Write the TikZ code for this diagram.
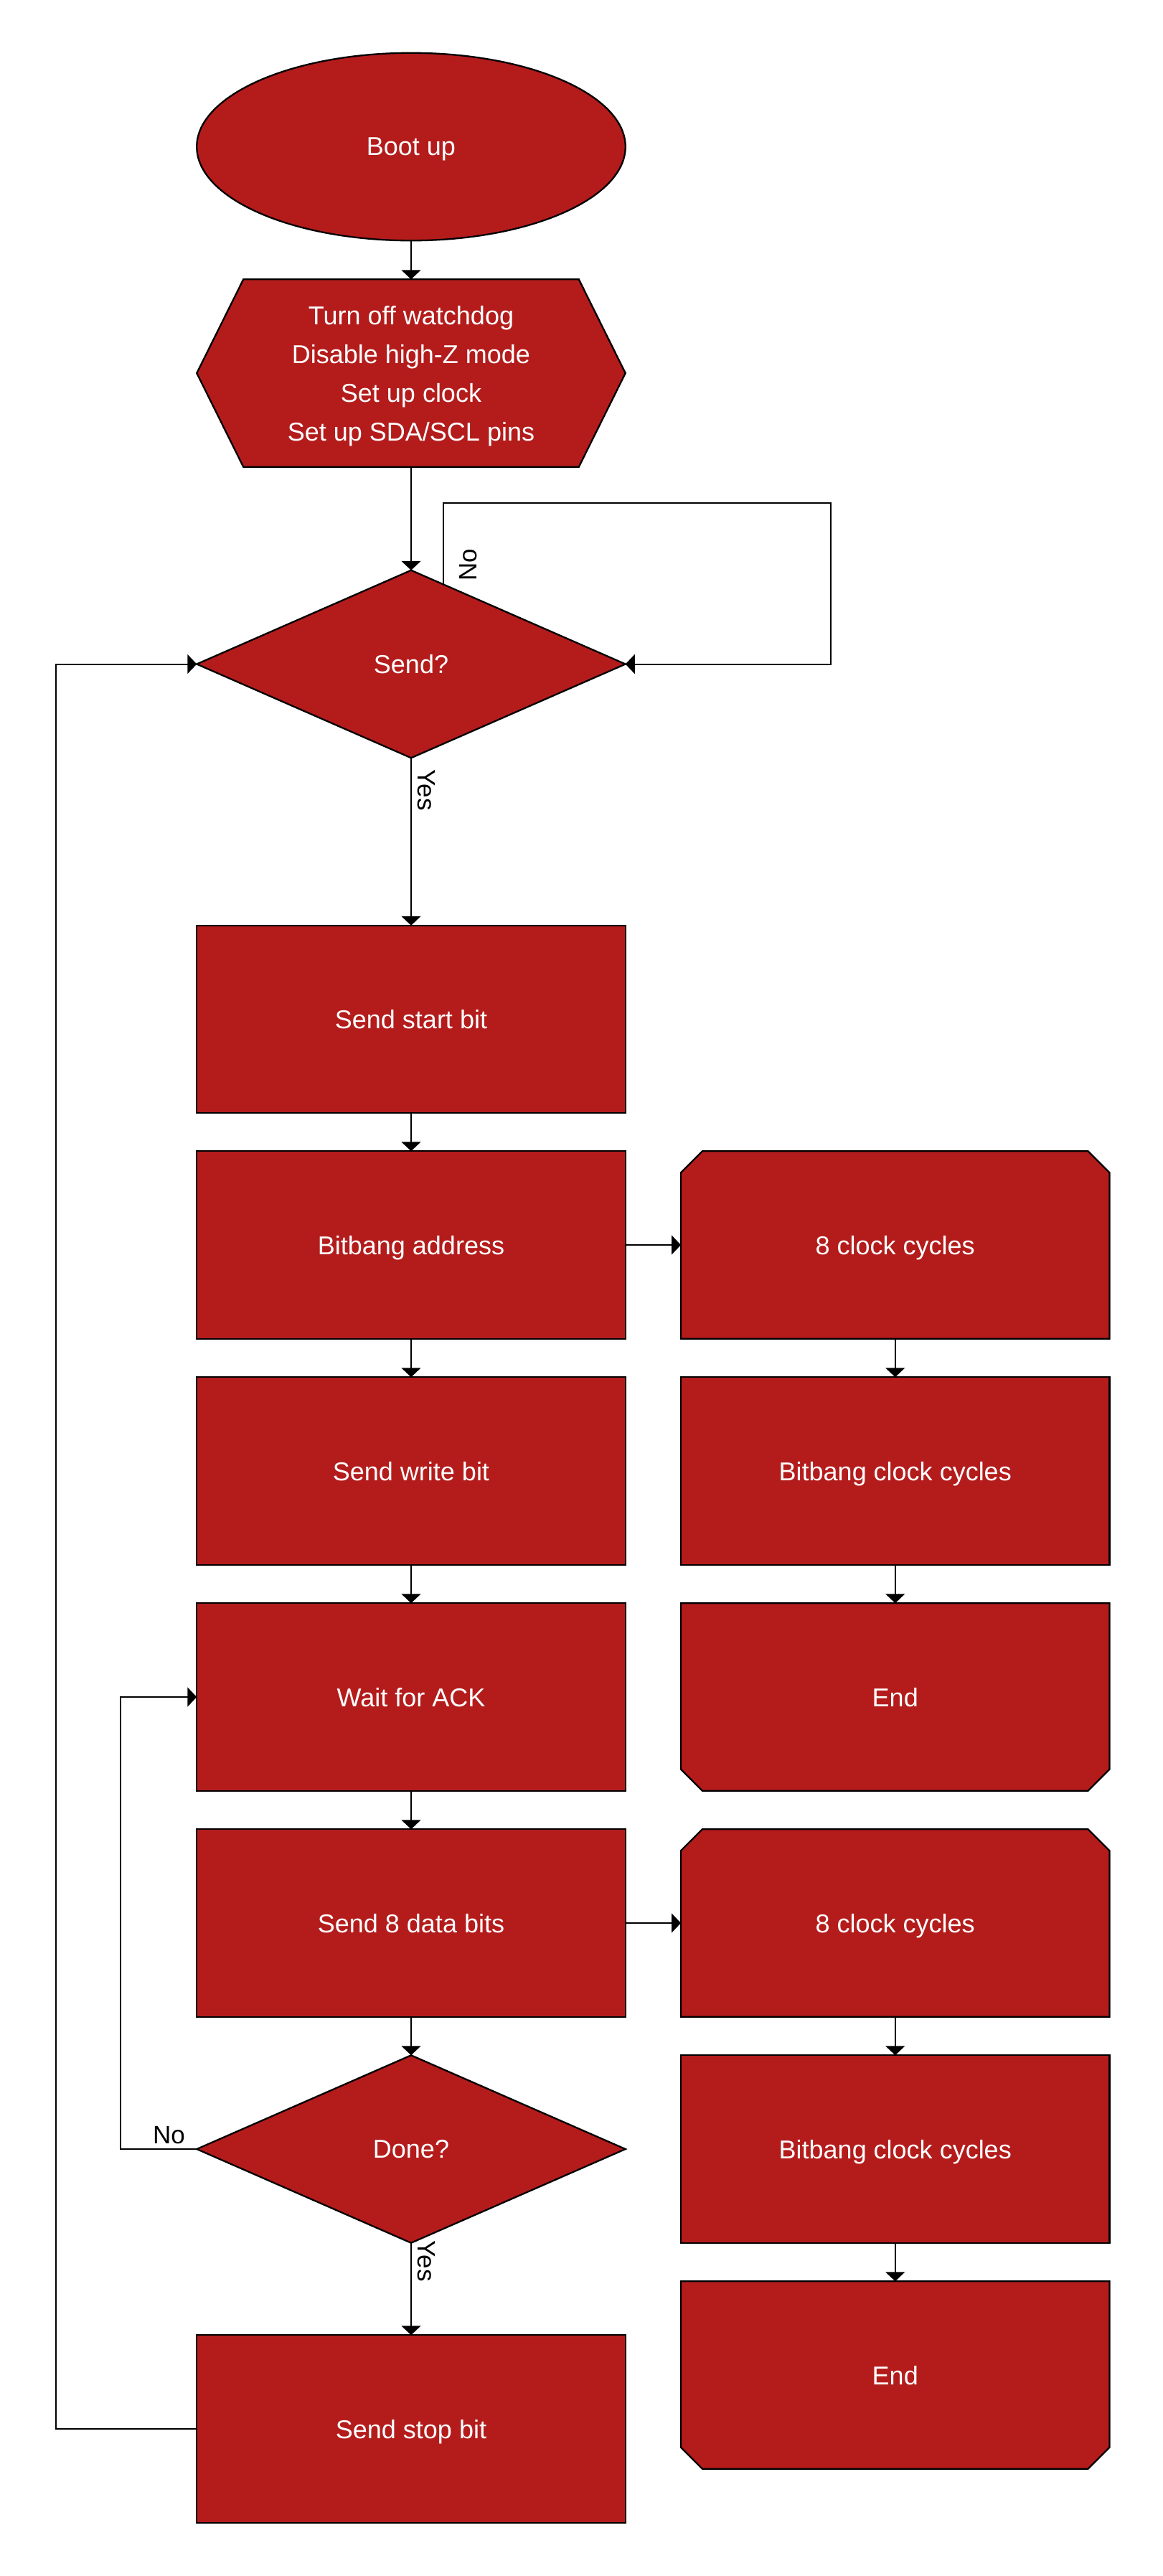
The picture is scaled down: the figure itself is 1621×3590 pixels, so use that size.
\documentclass[tikz,border=0pt]{standalone}
\usepackage{fontspec}
\setmainfont{Liberation Sans}
\usetikzlibrary{shapes.geometric,arrows.meta,backgrounds,calc}
\definecolor{boxred}{HTML}{B41C1C}
\begin{document}
\begin{tikzpicture}[x=1pt,y=-1pt,
  every node/.style={font=\fontsize{36}{54}\selectfont},
  blk/.style={rectangle, draw=black, fill=boxred, line width=2.3pt, minimum width=597.5pt, minimum height=261.5pt, inner sep=0pt, outer sep=0pt, text=white, align=center, text depth=0pt},
  bare/.style={rectangle, minimum width=597.5pt, minimum height=261.5pt, inner sep=0pt, outer sep=0pt, text=white, align=center, text depth=0pt},
  shp/.style={draw=black, fill=boxred, line width=2.3pt, line join=miter},
  conn/.style={line width=2pt, -{Triangle[width=27pt,length=13pt]}},
  lbl/.style={text=black, inner sep=0pt, font=\fontsize{35}{42}\selectfont}]

\useasboundingbox (0,0) rectangle (1621,3590);

% left column
\node[blk, shape=ellipse] (boot) at (573,204.5) {Boot up};
\node[bare] (hex) at (573,520) {Turn off watchdog\\Disable high-Z mode\\Set up clock\\Set up SDA/SCL pins};
\node[blk, shape=diamond] (send) at (573,925.5) {Send?};
\node[blk] (start) at (573,1420.5) {Send start bit};
\node[blk] (addr) at (573,1735) {Bitbang address};
\node[blk] (write) at (573,2050) {Send write bit};
\node[blk] (ack) at (573,2365) {Wait for ACK};
\node[blk] (data) at (573,2680) {Send 8 data bits};
\node[blk, shape=diamond] (done) at (573,2995) {Done?};
\node[blk] (stop) at (573,3385) {Send stop bit};

% right column
\node[bare] (clka) at (1247.75,1735) {8 clock cycles};
\node[blk] (bba) at (1247.75,2050) {Bitbang clock cycles};
\node[bare] (enda) at (1247.75,2365) {End};
\node[bare] (clkb) at (1247.75,2680) {8 clock cycles};
\node[blk] (bbb) at (1247.75,2995) {Bitbang clock cycles};
\node[bare] (endb) at (1247.75,3310) {End};

\begin{scope}[on background layer]
  \path[shp] ([xshift=65pt]hex.north west) -- ([xshift=-65pt]hex.north east) -- (hex.east)
    -- ([xshift=-65pt]hex.south east) -- ([xshift=65pt]hex.south west) -- (hex.west) -- cycle;
  \foreach \n in {clka,clkb}{
    \path[shp] ([yshift=-30pt]\n.north west) -- ([xshift=30pt]\n.north west) -- ([xshift=-30pt]\n.north east)
      -- ([yshift=-30pt]\n.north east) -- (\n.south east) -- (\n.south west) -- cycle;
  }
  \foreach \n in {enda,endb}{
    \path[shp] (\n.north west) -- (\n.north east) -- ([yshift=30pt]\n.south east) -- ([xshift=-30pt]\n.south east)
      -- ([xshift=30pt]\n.south west) -- ([yshift=30pt]\n.south west) -- cycle;
  }
\end{scope}

% connectors
\draw[conn] (boot) -- (hex);
\draw[conn] (hex) -- (send);
\coordinate (nostart) at ($(send.north)!0.1508!(send.east)$);
\coordinate (nocorner) at (1158,700.7);
\draw[conn] (nostart) |- (nocorner) |- (send.east);
\node[lbl, rotate=90] (noa) at (653,787) {No};
\draw[conn] (send) -- (start);
\node[lbl, rotate=-90] (yesa) at (594,1101) {Yes};
\draw[conn] (start) -- (addr);
\draw[conn] (addr) -- (write);
\draw[conn] (write) -- (ack);
\draw[conn] (ack) -- (data);
\draw[conn] (data) -- (done);
\draw[conn] (done) -- (stop);
\node[lbl, rotate=-90] (yesb) at (594.5,3151) {Yes};

\draw[conn] (addr) -- (clka);
\draw[conn] (clka) -- (bba);
\draw[conn] (bba) -- (enda);
\draw[conn] (data) -- (clkb);
\draw[conn] (clkb) -- (bbb);
\draw[conn] (bbb) -- (endb);

\coordinate (outer) at (77.5,925.5);
\draw[conn] (stop.west) -| (outer) -- (send.west);
\coordinate (inner) at (167.5,2365);
\draw[conn] (done.west) -| (inner) -- (ack.west);
\node[lbl, anchor=base] (nob) at (235.5,2987) {No};
\end{tikzpicture}
\end{document}
